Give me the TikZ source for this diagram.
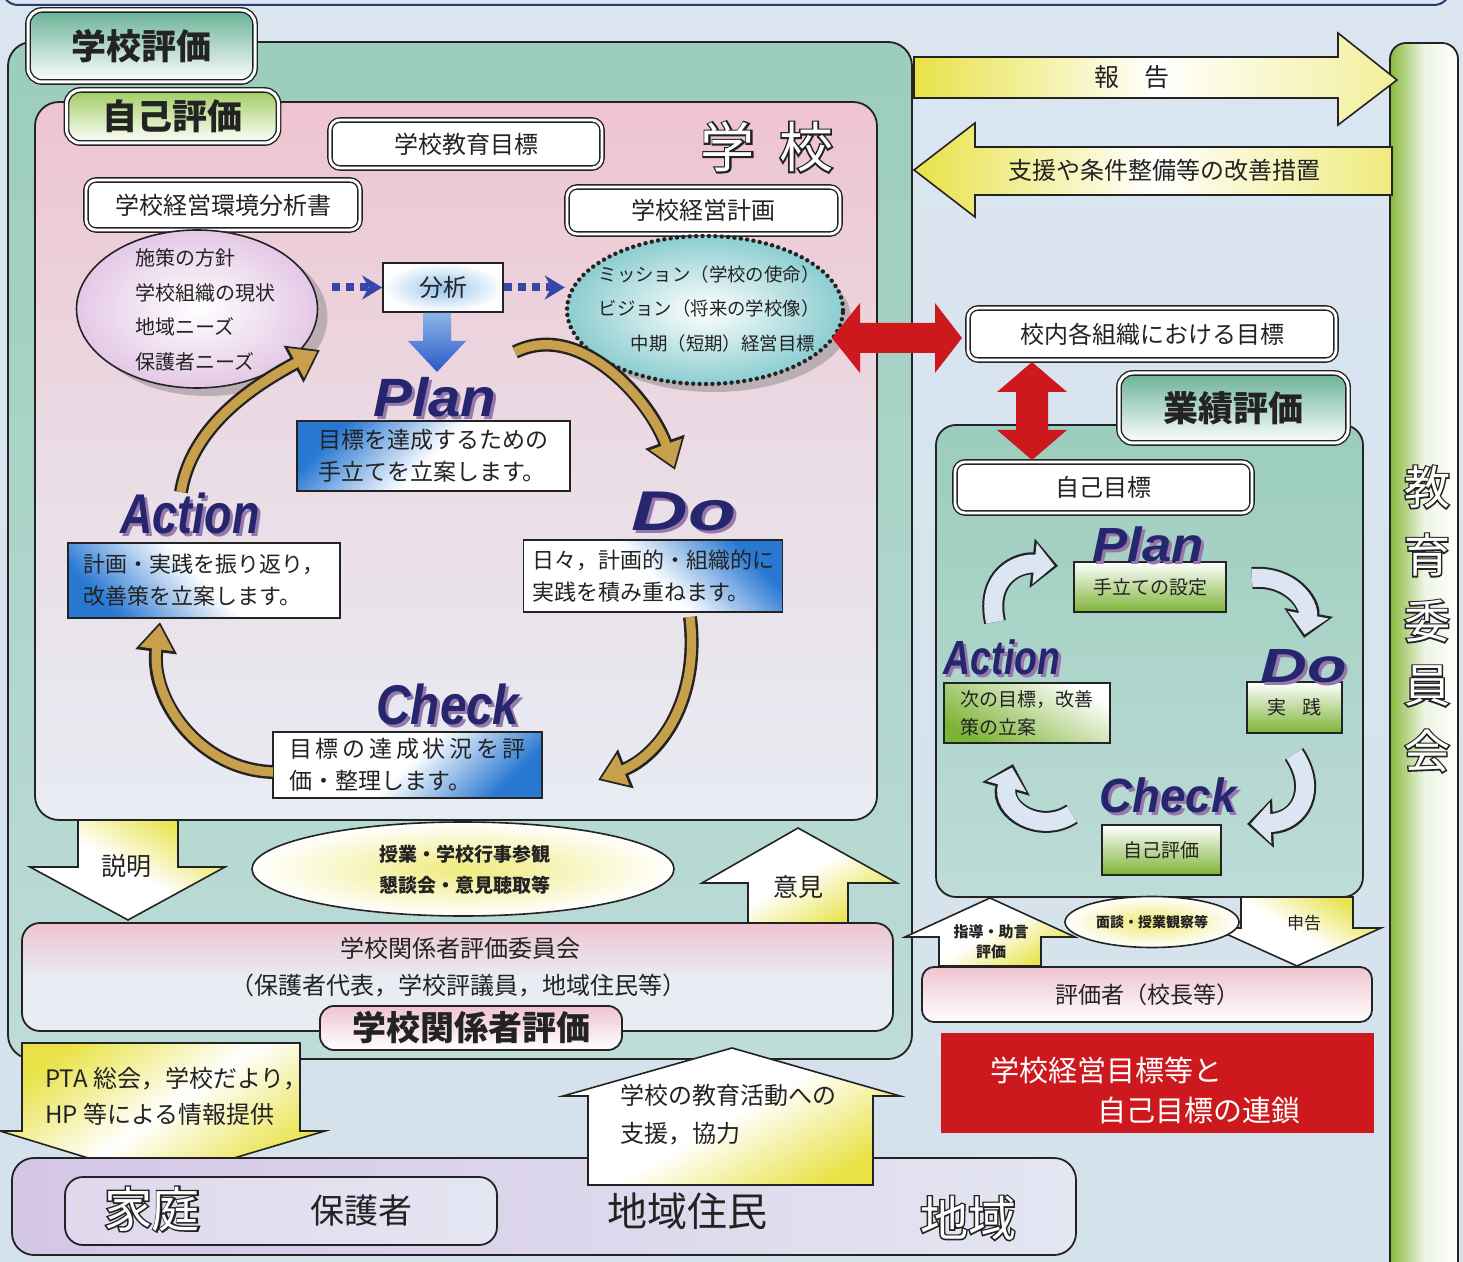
\documentclass[tikz,border=0pt]{standalone}
\usepackage{fontspec}
\usepackage{graphicx}
\setmainfont{Noto Sans CJK JP}
\newfontfamily\jpout[FakeBold=6]{Noto Sans CJK JP}
\newfontfamily\pdcafont{Liberation Sans}
\usetikzlibrary{shapes.geometric,arrows.meta}
\definecolor{textc}{RGB}{35,35,35}
\definecolor{bgA}{RGB}{218,229,240}
\definecolor{bgB}{RGB}{212,226,236}
\definecolor{tealA}{RGB}{155,205,188}
\definecolor{tealB}{RGB}{190,220,216}
\definecolor{pinkA}{RGB}{238,196,208}
\definecolor{pinkB}{RGB}{232,236,243}
\definecolor{tabteal}{RGB}{105,178,150}
\definecolor{tabgreen}{RGB}{160,205,95}
\definecolor{lilac}{RGB}{228,200,230}
\definecolor{tealell}{RGB}{140,205,208}
\definecolor{bunblue}{RGB}{150,195,235}
\definecolor{dotblue}{RGB}{55,70,170}
\definecolor{boxblue}{RGB}{40,120,210}
\definecolor{goldc}{RGB}{200,160,75}
\definecolor{paleblue}{RGB}{220,230,242}
\definecolor{grn}{RGB}{125,180,55}
\definecolor{redc}{RGB}{205,25,30}
\definecolor{yel}{RGB}{232,226,70}
\definecolor{navy}{RGB}{38,38,110}
\definecolor{pdcash}{RGB}{150,120,170}
\definecolor{purA}{RGB}{212,198,230}
\definecolor{purB}{RGB}{228,230,242}
\definecolor{barg}{RGB}{135,185,60}
\definecolor{framec}{RGB}{40,60,110}

\newcommand\outtext[4]{%
  \node[inner sep=0pt, text=textc, font=\jpout\fontsize{#3}{#3}\selectfont] at #2 {#4};
  \node[inner sep=0pt, text=white, font=\fontsize{#3}{#3}\selectfont] (#1) at #2 {#4};}
\newcommand\pdcaw[5]{%
  \node[inner sep=0pt, text=pdcash, font=\pdcafont\bfseries\itshape\fontsize{#3}{#3}\selectfont, xshift=1.5pt, yshift=-1.5pt] at #2 {\scalebox{#4}[1]{#5}};
  \node[inner sep=0pt, text=navy, font=\pdcafont\bfseries\itshape\fontsize{#3}{#3}\selectfont] (#1) at #2 {\scalebox{#4}[1]{#5}};}
\newcommand\garrow[1]{%
  \draw[line width=7pt, draw=textc, -{Triangle[length=15pt,width=20pt]}] #1;
  \draw[line width=4.6pt, draw=goldc, shorten >=1.6pt, -{Triangle[length=12pt,width=16pt]}] #1;}
\newcommand\warrow[1]{%
  \draw[line width=11pt, draw=textc, -{Triangle[length=13pt,width=24pt]}] #1;
  \draw[line width=9pt, draw=paleblue, shorten >=1.8pt, -{Triangle[length=10pt,width=20pt]}] #1;}

\begin{document}
\begin{tikzpicture}[x=0.5pt,y=-0.5pt,
  dbox/.style={draw=textc, line width=0.7pt, double=white, double distance=1.4pt, rounded corners=5pt, fill=white, inner sep=0pt, text=textc},
  tabbox/.style={draw=textc, line width=0.7pt, double=white, double distance=1.5pt, rounded corners=7pt, inner sep=0pt, text=textc, font=\bfseries\fontsize{17.5}{20}\selectfont},
  pbox/.style={draw=textc, line width=0.8pt, inner sep=0pt, text=textc},
  blk/.style={draw=textc, line width=0.8pt},
  txt/.style={inner sep=0pt, text=textc},
  dotarr/.style={draw=dotblue, line width=4pt, dash pattern=on 4pt off 3pt, -{Stealth[length=10pt,width=12pt]}},
]
\useasboundingbox (0,0) rectangle (1463,1262);
\clip (0,0) rectangle (1463,1262);
\shade[top color=bgA, bottom color=bgB] (0,0) rectangle (1463,1262);
% cut-off frame at top
\draw[line width=1pt, draw=framec, rounded corners=8pt] (2,-40) rectangle (1450,5);

% Board of education bar
\shade[draw=textc, line width=0.9pt, rounded corners=8pt, left color=barg, right color=white, middle color=white!85!barg] (1390,43) rectangle (1458,1300);
\outtext{kyo1}{(1427,487)}{23}{教}
\outtext{kyo2}{(1427,555)}{23}{育}
\outtext{kyo3}{(1427,621)}{23}{委}
\outtext{kyo4}{(1427,686)}{23}{員}
\outtext{kyo5}{(1427,751)}{23}{会}

% report / support arrows
\shade[blk, left color=yel, right color=yel!55!white, middle color=white] (914,57) -- (1338,57) -- (1338,33) -- (1397,80) -- (1338,125) -- (1338,98) -- (914,98) -- cycle;
\node[txt, font=\fontsize{12.5}{14}\selectfont] (hokoku) at (1132,77) {報\hspace{1em}告};
\shade[blk, left color=yel, right color=yel!70!white, middle color=white] (1392,147) -- (975,147) -- (975,123) -- (914,170) -- (975,217) -- (975,195) -- (1392,195) -- cycle;
\node[txt, font=\fontsize{12}{14}\selectfont] (shien) at (1164,170) {支援や条件整備等の改善措置};

% school evaluation big box
\shade[draw=textc, line width=0.9pt, rounded corners=12pt, top color=tealA, bottom color=tealB] (8,42) rectangle (912,1059);
\node[tabbox, minimum width=113.5pt, minimum height=36pt, top color=tabteal, bottom color=white] (tabgk) at (141.5,46) {学校評価};

% self evaluation pink box
\shade[draw=textc, line width=0.9pt, rounded corners=12pt, top color=pinkA, bottom color=pinkB, middle color=pinkB!60!pinkA] (35,102) rectangle (877,820);
\node[tabbox, minimum width=106pt, minimum height=26.5pt, top color=tabgreen, bottom color=white] (tabjk) at (172.5,116.5) {自己評価};
\outtext{gakko}{(767,147)}{27}{学\hspace{0.45em}校}

\node[dbox, minimum width=136pt, minimum height=24pt, font=\fontsize{12}{14}\selectfont] (kyoiku) at (466,144) {学校教育目標};
\node[dbox, minimum width=137pt, minimum height=25pt, font=\fontsize{12}{14}\selectfont] (kankyo) at (223,205) {学校経営環境分析書};
\node[dbox, minimum width=136.5pt, minimum height=23.5pt, font=\fontsize{12}{14}\selectfont] (keikaku) at (703.5,210.5) {学校経営計画};

% left ellipse
\node[ellipse, minimum width=120.5pt, minimum height=79pt, fill=black!50, opacity=0.45] (lellsh) at (207,317) {};
\node[ellipse, draw=textc, line width=0.8pt, minimum width=120.5pt, minimum height=79pt, inner color=white, outer color=lilac] (lell) at (197,309) {};

% right (mission) ellipse
\node[ellipse, minimum width=137pt, minimum height=73pt, fill=black!50, opacity=0.45] (tellsh) at (714,319) {};
\node[ellipse, draw=textc, line width=2.2pt, dash pattern=on 0pt off 3.2pt, line cap=round, minimum width=138pt, minimum height=74pt, inner color=white, outer color=tealell] (tell) at (705,310) {};
\node[txt, align=center, font=\fontsize{9.2}{17.3}\selectfont] (telltxt) at (709,309) {ミッション（学校の使命）\\ビジョン（将来の学校像）\\\hspace{1.5em}中期（短期）経営目標};

% analysis
\node[pbox, minimum width=60pt, minimum height=24.5pt, inner color=bunblue, outer color=white, font=\fontsize{12}{14}\selectfont] (bunseki) at (443,287.5) {分析};
\draw[dotarr, shorten <=7pt] (lell.east |- bunseki.west) -- (bunseki.west);
\draw[dotarr] (bunseki.east) -- (tell.west |- bunseki.east);
\shade[top color={rgb,255:red,140;green,180;blue,230}, bottom color={rgb,255:red,40;green,90;blue,200}] (423,313) -- (451,313) -- (451,341) -- (466,341) -- (437,372) -- (408,341) -- (423,341) -- cycle;

% left PDCA
\pdcaw{lplan}{(435,397)}{27}{1.08}{Plan}
\pdcaw{ldo}{(684,512)}{28}{1.4}{Do}
\pdcaw{lcheck}{(448,704)}{28}{0.85}{Check}
\pdcaw{laction}{(190,513)}{28}{0.8}{Action}

\node[pbox, minimum width=136.5pt, minimum height=35pt, top color=boxblue, bottom color=white, middle color=white, shading angle=45, align=left, font=\fontsize{11.5}{16}\selectfont] (lplanbox) at (433.5,456) {目標を達成するための\\手立てを立案します。};
\node[pbox, minimum width=129.5pt, minimum height=36pt, top color=boxblue, bottom color=white, middle color=white, shading angle=-45, align=left, font=\fontsize{11}{16}\selectfont] (ldobox) at (653,576) {日々，計画的・組織的に\\実践を積み重ねます。};
\node[pbox, minimum width=134.5pt, minimum height=33pt, top color=boxblue, bottom color=white, middle color=white, shading angle=-135, align=left, font=\fontsize{11.5}{16}\selectfont] (lcheckbox) at (407.5,765) {{\addfontfeatures{LetterSpace=16}目標の達成状況を評}\\価・整理します。};
\node[pbox, minimum width=136pt, minimum height=37.5pt, top color=boxblue, bottom color=white, middle color=white, shading angle=135, align=left, font=\fontsize{11}{16}\selectfont] (lactbox) at (204,580.5) {計画・実践を振り返り，\\改善策を立案します。};

\coordinate (g1s) at (515,352); \coordinate (g1e) at (675,470);
\coordinate (g2s) at (690,617); \coordinate (g2e) at (598,780);
\coordinate (g3s) at (273,772); \coordinate (g3e) at (160,622);
\coordinate (g4s) at (181,492); \coordinate (g4e) at (320,350);
\garrow{(g1s) .. controls (580,320) and (650,400) .. (g1e)}
\garrow{(g2s) .. controls (700,700) and (660,755) .. (g2e)}
\garrow{(g3s) .. controls (200,770) and (150,700) .. (g3e)}
\garrow{(g4s) .. controls (192,425) and (255,385) .. (g4e)}
\node[txt, align=left, anchor=west, font=\fontsize{10}{17.3}\selectfont] (lelltxt) at (135,310) {施策の方針\\学校組織の現状\\地域ニーズ\\保護者ニーズ};

% right side: organisations / performance evaluation
\node[dbox, minimum width=184pt, minimum height=26pt, font=\fontsize{12}{14}\selectfont] (sonai) at (1152,334) {校内各組織における目標};
\shade[draw=textc, line width=0.9pt, rounded corners=10pt, top color=tealA, bottom color=tealB] (936,425) rectangle (1363,897);
\node[tabbox, minimum width=114.5pt, minimum height=35pt, top color=tabteal, bottom color=white] (tabgy) at (1233.5,408) {業績評価};
\node[dbox, minimum width=148.5pt, minimum height=25.5pt, font=\fontsize{12}{14}\selectfont] (jikomoku) at (1103.5,487.5) {自己目標};

\node[pbox, minimum width=76pt, minimum height=25pt, top color=white, bottom color=grn, font=\fontsize{9.5}{12}\selectfont] (rplanbox) at (1150,587) {手立ての設定};
\node[pbox, minimum width=47.5pt, minimum height=25.5pt, top color=white, bottom color=grn, font=\fontsize{9.5}{12}\selectfont] (rdobox) at (1294.5,707.5) {実\hspace{0.8em}践};
\node[pbox, minimum width=59.5pt, minimum height=25pt, top color=white, bottom color=grn, font=\fontsize{9.5}{12}\selectfont] (rcheckbox) at (1161.5,850) {自己評価};
\node[pbox, minimum width=83pt, minimum height=30pt, top color=white, bottom color=grn, shading angle=-30, align=left, font=\fontsize{9.5}{14}\selectfont] (ractbox) at (1027,713) {次の目標，改善\\策の立案};

\pdcaw{rplan}{(1148,544)}{24}{1.1}{Plan}
\pdcaw{rdo}{(1304,666)}{24}{1.35}{Do}
\pdcaw{rcheck}{(1168,795)}{24}{0.95}{Check}
\pdcaw{raction}{(1002,657)}{24}{0.78}{Action}

\warrow{(995,622) .. controls (985,575) and (1020,562) .. (1058,566)}
\warrow{(1252,578) .. controls (1292,575) and (1310,605) .. (1304,638)}
\warrow{(1294,754) .. controls (1318,790) and (1300,822) .. (1247,824)}
\warrow{(1072,814) .. controls (1040,835) and (1000,810) .. (1013,764)}

% red arrows
\fill[redc] (832,338) -- (860,303) -- (860,323) -- (935,323) -- (935,303) -- (962,338) -- (935,373) -- (935,353) -- (860,353) -- (860,373) -- cycle;
\fill[redc] (1032,362) -- (1067,392) -- (1048,392) -- (1048,430) -- (1067,430) -- (1032,460) -- (997,430) -- (1016,430) -- (1016,392) -- (997,392) -- cycle;

% explanation arrow, events ellipse, opinion arrow
\shade[blk, top color=yel, bottom color=white, middle color=white, shading angle=-30] (78,820) -- (178,820) -- (178,867) -- (225,867) -- (128,920) -- (30,867) -- (78,867) -- cycle;
\node[txt, font=\fontsize{12.5}{14}\selectfont] (setsumei) at (126,866) {説明};
\node[ellipse, draw=textc, line width=0.8pt, minimum width=211pt, minimum height=47pt, inner color=yel!70!white, outer color=white] (jugyo) at (463,869) {};
\node[txt, align=center, font=\bfseries\fontsize{9.5}{15.5}\selectfont] (jugyotxt) at (465,870) {授業・学校行事参観\\懇談会・意見聴取等};
\shade[blk, top color=white, bottom color=yel, middle color=white, shading angle=30] (748,923) -- (748,883) -- (702,883) -- (798,828) -- (897,883) -- (848,883) -- (848,923) -- cycle;
\node[txt, font=\fontsize{12.5}{14}\selectfont] (iken) at (798,887) {意見};

% committee
\shade[draw=textc, line width=0.9pt, rounded corners=9pt, top color=pinkA, bottom color=pinkB, middle color=pinkB] (22,923) rectangle (893,1031);
\node[txt, font=\fontsize{12}{14}\selectfont] (iinkai) at (460,948) {学校関係者評価委員会};
\node[txt, font=\fontsize{12}{14}\selectfont] (iinkai2) at (458,986) {（保護者代表，学校評議員，地域住民等）};
\node[draw=textc, line width=0.9pt, rounded corners=7pt, inner sep=0pt, minimum width=151pt, minimum height=22pt, top color=pinkA, bottom color=white, text=textc, font=\bfseries\fontsize{17}{20}\selectfont] (tabkk) at (471,1028) {学校関係者評価};

% PTA arrow
\shade[blk, top color=yel, bottom color=yel, middle color=white, shading angle=35] (22,1043) -- (300,1043) -- (300,1131) -- (325,1131) -- (160,1180) -- (0,1131) -- (22,1131) -- cycle;
\node[txt, align=left, anchor=west, font=\fontsize{12}{18}\selectfont] (pta) at (45,1096) {PTA 総会，学校だより，\\HP 等による情報提供};

% bottom community band
\shade[draw=textc, line width=0.9pt, rounded corners=11pt, left color=purA, right color=purB] (12,1158) rectangle (1076,1255);
\shade[draw=textc, line width=0.9pt, rounded corners=9pt, left color=purA!70!white, right color=purB] (65,1177) rectangle (497,1245);
\outtext{katei}{(152,1209)}{24}{家庭}
\node[txt, font=\fontsize{17}{20}\selectfont] (hogosha) at (361,1211) {保護者};
\node[txt, font=\fontsize{20}{24}\selectfont] (chiikijumin) at (687,1211) {地域住民};
\outtext{chiiki}{(968,1218)}{24}{地域}
\shade[blk, top color=white, bottom color=yel, middle color=white, shading angle=30] (588,1185) -- (588,1096) -- (563,1096) -- (732,1048) -- (900,1096) -- (873,1096) -- (873,1185) -- cycle;
\node[txt, align=left, anchor=west, font=\fontsize{12}{19}\selectfont] (kyoryoku) at (620,1115) {学校の教育活動への\\支援，協力};

% evaluator area
\shade[blk, top color=white, bottom color=yel, middle color=white, shading angle=30] (939,966) -- (939,937) -- (905,937) -- (990,898) -- (1075,937) -- (1041,937) -- (1041,966) -- cycle;
\node[txt, align=center, font=\bfseries\fontsize{7.5}{10}\selectfont] (shido) at (991,942) {指導・助言\\評価};
\shade[blk, top color=yel, bottom color=white, middle color=white, shading angle=-30] (1241,897) -- (1353,897) -- (1353,928) -- (1381,928) -- (1297,966) -- (1213,928) -- (1241,928) -- cycle;
\node[txt, font=\fontsize{8.5}{10}\selectfont] (shinkoku) at (1304,923) {申告};
\node[ellipse, draw=textc, line width=0.8pt, minimum width=87pt, minimum height=25.5pt, inner color=yel!75!white, outer color=white] (mendan) at (1152,922) {};
\node[txt, font=\bfseries\fontsize{7}{9}\selectfont] (mendantxt) at (1152,922) {面談・授業観察等};
\node[draw=textc, line width=0.9pt, rounded corners=6pt, inner sep=0pt, minimum width=225pt, minimum height=27.5pt, top color=pinkA, bottom color=white, text=textc, font=\fontsize{11.5}{14}\selectfont] (hyokasha) at (1147,994.5) {評価者（校長等）};
\node[fill=redc, inner sep=0pt, minimum width=216.5pt, minimum height=50pt] (redbox) at (1157.5,1083) {};
\node[inner sep=0pt, anchor=west, text=white, font=\fontsize{14.5}{16}\selectfont] (red1) at (990,1070) {学校経営目標等と};
\node[inner sep=0pt, anchor=west, text=white, font=\fontsize{14.5}{16}\selectfont] (red2) at (1097,1110) {自己目標の連鎖};
\end{tikzpicture}
\end{document}
